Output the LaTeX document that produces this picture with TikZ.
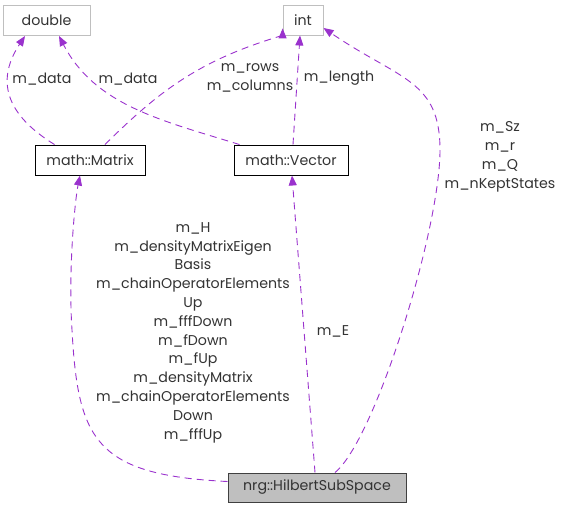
\documentclass[tikz,border=0pt]{standalone}
\usepackage{fontspec}
\setmainfont{Poppins}
\usetikzlibrary{arrows.meta}
\definecolor{edgec}{HTML}{9A32CD}
\definecolor{lightbd}{HTML}{BFBFBF}
\definecolor{darkbd}{HTML}{404040}
\begin{document}
\begin{tikzpicture}[x=1pt,y=-1pt,
  every node/.style={font=\fontsize{14.2}{18.8}\selectfont, text=black!80},
  extbox/.style={draw=lightbd, line width=0.8pt, fill=white, minimum height=30pt, inner sep=0pt},
  clsbox/.style={draw=black, line width=0.9pt, fill=white, minimum height=30pt, inner sep=0pt},
  mainbox/.style={draw=darkbd, line width=1pt, fill=lightbd, minimum height=29pt, inner sep=0pt},
  rel/.style={draw=edgec, dashed, dash pattern=on 7pt off 5pt, line width=0.9pt, -{Triangle[length=10pt,width=8pt]}},
  lbl/.style={align=center, inner sep=0pt}]
\useasboundingbox (0,0) rectangle (562,509);
\node[extbox, minimum width=87pt] (double) at (46.5,20) {double};
\node[extbox, minimum width=40pt] (int) at (303,20) {int};
\node[clsbox, minimum width=110pt] (matrix) at (90,160) {math::Matrix};
\node[clsbox, minimum width=114pt] (vector) at (291,160) {math::Vector};
\node[mainbox, minimum width=178pt] (hss) at (317,487.5) {nrg::HilbertSubSpace};
% Matrix -> double
\draw[rel] (matrix.north west) ++(20,0) .. controls (28,128) and (-14,95) .. (25,36);
% Vector -> double
\draw[rel] (vector.north west) ++(6,0) .. controls (160,120) and (95,105) .. (59,36);
% Matrix -> int
\draw[rel] (matrix.north) ++(15,0) .. controls (160,90) and (200,60) .. (int.south west) ++(0,-7);
% Vector -> int
\draw[rel] (vector.north) ++(2,0) -- (300,35.5);
% HSS -> int
\draw[rel] (hss.north) ++(18,0) .. controls (375,440) and (440,230) .. (440,150)
  .. controls (440,80) and (400,80) .. (323.5,28);
% HSS -> Matrix
\draw[rel] (hss.west) ++(0,-6) .. controls (95,475) and (78,440) .. (72,330)
  .. controls (68,270) and (75,200) .. (80,175.5);
% HSS -> Vector
\draw[rel] (hss.north) ++(-2,0) -- (292,175.5);
% labels
\node[lbl] at (42,79) {m\_data};
\node[lbl] at (128,79) {m\_data};
\node[lbl] at (250,78) {m\_rows\\m\_columns};
\node[lbl] at (339,78) {m\_length};
\node[lbl] at (500,157) {m\_Sz\\m\_r\\m\_Q\\m\_nKeptStates};
\node[lbl] at (193,332.5) {m\_H\\m\_densityMatrixEigen\\Basis\\m\_chainOperatorElements\\Up\\m\_fffDown\\m\_fDown\\m\_fUp\\m\_densityMatrix\\m\_chainOperatorElements\\Down\\m\_fffUp};
\node[lbl] at (333,331) {m\_E};
\end{tikzpicture}
\end{document}
